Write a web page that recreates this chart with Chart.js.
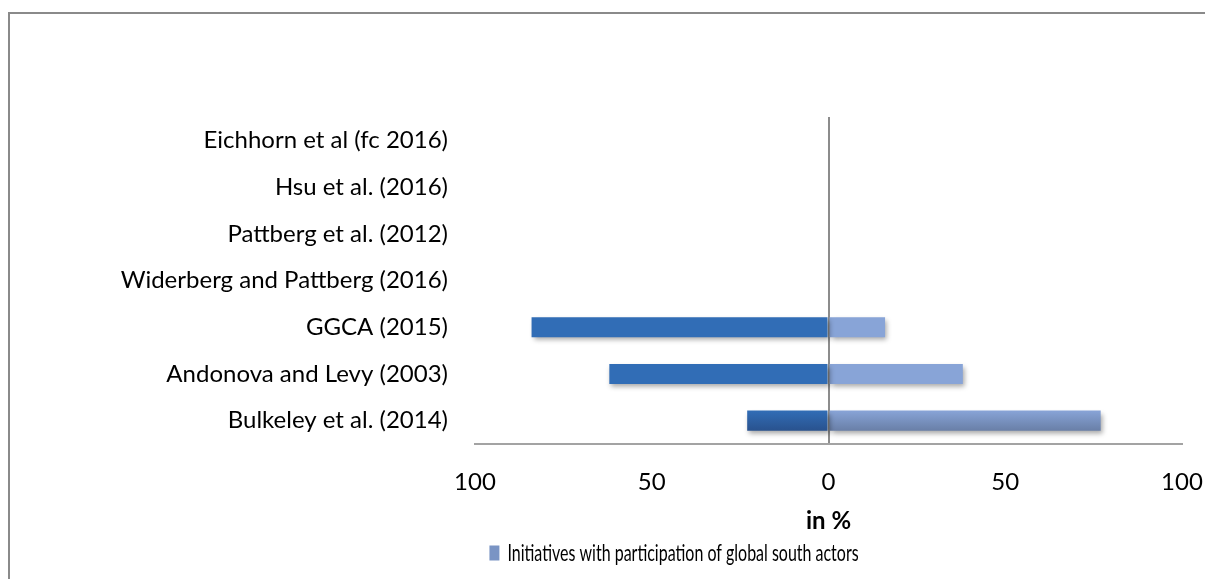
<!DOCTYPE html>
<html>
<head>
<meta charset="utf-8">
<script src="https://cdn.jsdelivr.net/npm/chart.js@4.4.1/dist/chart.umd.min.js"></script>
<style>
  html, body { margin: 0; padding: 0; background: #fff; overflow: hidden; }
  #wrap { position: relative; width: 1205px; height: 579px; }
  #frame { position: absolute; left: 8px; top: 12px; width: 1300px; height: 700px;
           border: 2px solid #8a8a8a; box-sizing: border-box; pointer-events: none; }
  canvas { position: absolute; left: 0; top: 0; }
</style>
</head>
<body>
<div id="wrap">
  <div id="frame"></div>
  <canvas id="chart" width="1205" height="579"></canvas>
</div>
<script>
// Studies, top to bottom
const studies = [
  'Eichhorn et al (fc 2016)',
  'Hsu et al. (2016)',
  'Pattberg et al. (2012)',
  'Widerberg and Pattberg (2016)',
  'GGCA (2015)',
  'Andonova and Levy (2003)',
  'Bulkeley et al. (2014)'
];

// Share of initiatives in %, without south actors drawn to the left
const withoutSouth = [null, null, null, null, -84, -62, -23];
const withSouth = [null, null, null, null, 16, 38, 77];

const xTicks = [-100, -50, 0, 50, 100];

const FONT = 'Lato, "Open Sans", sans-serif';
const SIZE = 24;

// vertical gradient + soft drop shadow on every bar
const barShading = {
  id: 'barShading',
  beforeDatasetsDraw(chart) {
    const ctx = chart.ctx;
    chart.data.datasets.forEach((ds, i) => {
      chart.getDatasetMeta(i).data.forEach(bar => {
        const top = bar.y - bar.height / 2;
        const g = ctx.createLinearGradient(0, top, 0, top + bar.height);
        g.addColorStop(0, ds.shade[0]);
        g.addColorStop(1, ds.shade[1]);
        bar.options.backgroundColor = g;
      });
    });
    ctx.save();
    ctx.shadowColor = 'rgba(0,0,0,0.35)';
    ctx.shadowBlur = 5;
    ctx.shadowOffsetX = 2;
    ctx.shadowOffsetY = 3;
  },
  afterDatasetsDraw(chart) {
    chart.ctx.restore();
  }
};

// legend: centred right of the canvas middle and squeezed horizontally
const LEGEND_CX = 674;
const LEGEND_SQUEEZE = 0.666;
const legendSqueeze = {
  id: 'legendSqueeze',
  afterLayout(chart) {
    const legend = chart.legend;
    legend.left = LEGEND_CX - 508;
    legend.right = LEGEND_CX + 508;
    if (legend._plainDraw) return;
    legend._plainDraw = legend.draw;
    legend.draw = function (area) {
      const ctx = chart.ctx;
      ctx.save();
      ctx.translate(LEGEND_CX, 0);
      ctx.scale(LEGEND_SQUEEZE, 1);
      ctx.translate(-LEGEND_CX, 0);
      legend._plainDraw(area);
      ctx.restore();
    };
  }
};

new Chart(document.getElementById('chart'), {
  type: 'bar',
  data: {
    labels: studies,
    datasets: [
      {
        label: 'Initiatives without participation of global south actors',
        data: withoutSouth,
        backgroundColor: '#2d5fa3',
        shade: ['#316db6', '#29528e']
      },
      {
        label: 'Initiatives with participation of global south actors',
        data: withSouth,
        backgroundColor: '#7a94c4',
        shade: ['#88a4d7', '#697fa7']
      }
    ]
  },
  options: {
    indexAxis: 'y',
    responsive: false,
    animation: false,
    devicePixelRatio: 1,
    layout: { padding: { top: 117, left: 0, right: 23, bottom: 4 } },
    datasets: {
      bar: { categoryPercentage: 1, barPercentage: 0.43, borderWidth: 0 }
    },
    scales: {
      x: {
        stacked: true,
        min: -100,
        max: 100,
        z: 1,
        afterBuildTicks: scale => { scale.ticks = xTicks.map(v => ({ value: v })); },
        afterFit: scale => {
          scale.height = 92;
          scale.paddingLeft = 0;
          scale.paddingRight = 0;
        },
        ticks: {
          callback: v => Math.abs(v),
          color: '#000',
          padding: 24,
          maxRotation: 0,
          font: { family: FONT, size: SIZE }
        },
        grid: {
          drawTicks: false,
          lineWidth: 2,
          color: c => (c.tick && c.tick.value === 0 ? '#8c8c8c' : 'transparent')
        },
        border: { display: true, color: '#a3a3a3', width: 2 },
        title: {
          display: true,
          text: 'in %',
          color: '#000',
          padding: 0,
          font: { family: FONT, size: SIZE, weight: 'bold' }
        }
      },
      y: {
        stacked: true,
        afterFit: scale => { scale.width = 475; },
        ticks: {
          color: '#000',
          padding: 27,
          font: { family: FONT, size: SIZE }
        },
        grid: { display: false, drawTicks: false },
        border: { display: false }
      }
    },
    plugins: {
      tooltip: { enabled: false },
      legend: {
        position: 'bottom',
        labels: {
          filter: item => item.datasetIndex === 1,
          boxWidth: 15,
          boxHeight: 15,
          padding: 5,
          color: '#000',
          font: { family: FONT, size: SIZE }
        }
      }
    }
  },
  plugins: [barShading, legendSqueeze]
});
</script>
</body>
</html>
